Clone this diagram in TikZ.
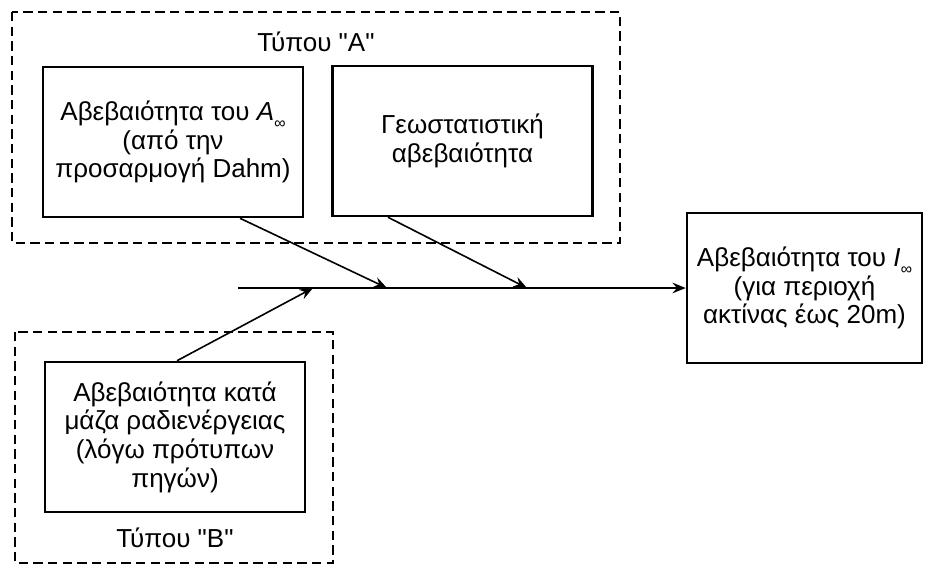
\documentclass[tikz,border=0pt]{standalone}
\usepackage{fontspec}
\setmainfont{Liberation Sans}
\usetikzlibrary{arrows.meta,calc}

\begin{document}
\begin{tikzpicture}
    % one unit = one pixel of the 925x565 sketch, y runs downwards
    [x=0.75pt, y=-0.75pt,
    font=\fontsize{19.5}{21.5}\selectfont,
    UBox/.style={rectangle, draw=black, line width=1.9pt, align=center, inner sep=0pt, minimum width=195pt, minimum height=112.5pt},
    GroupBox/.style={draw=black, line width=1.9pt, dash pattern=on 7pt off 4pt},
    Flow/.style={-{Stealth[length=10pt, width=8pt, inset=3.5pt]}, line width=1.2pt}]

    % fix the page size
    \useasboundingbox (0,0) rectangle (925,565);

    % dashed group boxes
    \draw[GroupBox] (12,12) rectangle (620,243);
    \draw[GroupBox] (15,332) rectangle (333,563);

    % group titles
    \node (tA) at (316,42) {Τύπου \textquotedbl A\textquotedbl};
    \node (tB) at (175,538) {Τύπου \textquotedbl B\textquotedbl};

    % uncertainty boxes
    \node[UBox] (b1) at (173,142) {Αβεβαιότητα του \textit{A}\raisebox{-0.6ex}{\fontsize{12}{12}\selectfont\textit{∞}}\\(από την\\προσαρμογή Dahm)};
    \node[UBox] (b2) at (462.5,141) {Γεωστατιστική\\αβεβαιότητα};
    \node[UBox] (b4) at (175,437) {Αβεβαιότητα κατά\\μάζα ραδιενέργειας\\(λόγω πρότυπων\\πηγών)};
    \node[UBox, minimum width=176.25pt] (b3) at (804.5,288) {Αβεβαιότητα του \textit{I}\raisebox{-0.6ex}{\fontsize{12}{12}\selectfont\textit{∞}}\\(για περιοχή\\ακτίνας έως 20m)};

    % points on the main line
    \coordinate (s) at (238,288);
    \coordinate (j3) at (313,288);
    \coordinate (j1) at (387,288);
    \coordinate (j2) at (527,288);

    % main line and the side arrows
    \draw[Flow] (s) -- (b3.west);
    \draw[Flow] ($(b1.south)+(67,0)$) -- (j1);
    \draw[Flow] ($(b2.south)+(-74.5,0)$) -- (j2);
    \draw[Flow] ($(b4.north)+(2,0)$) -- (j3);
\end{tikzpicture}
\end{document}
